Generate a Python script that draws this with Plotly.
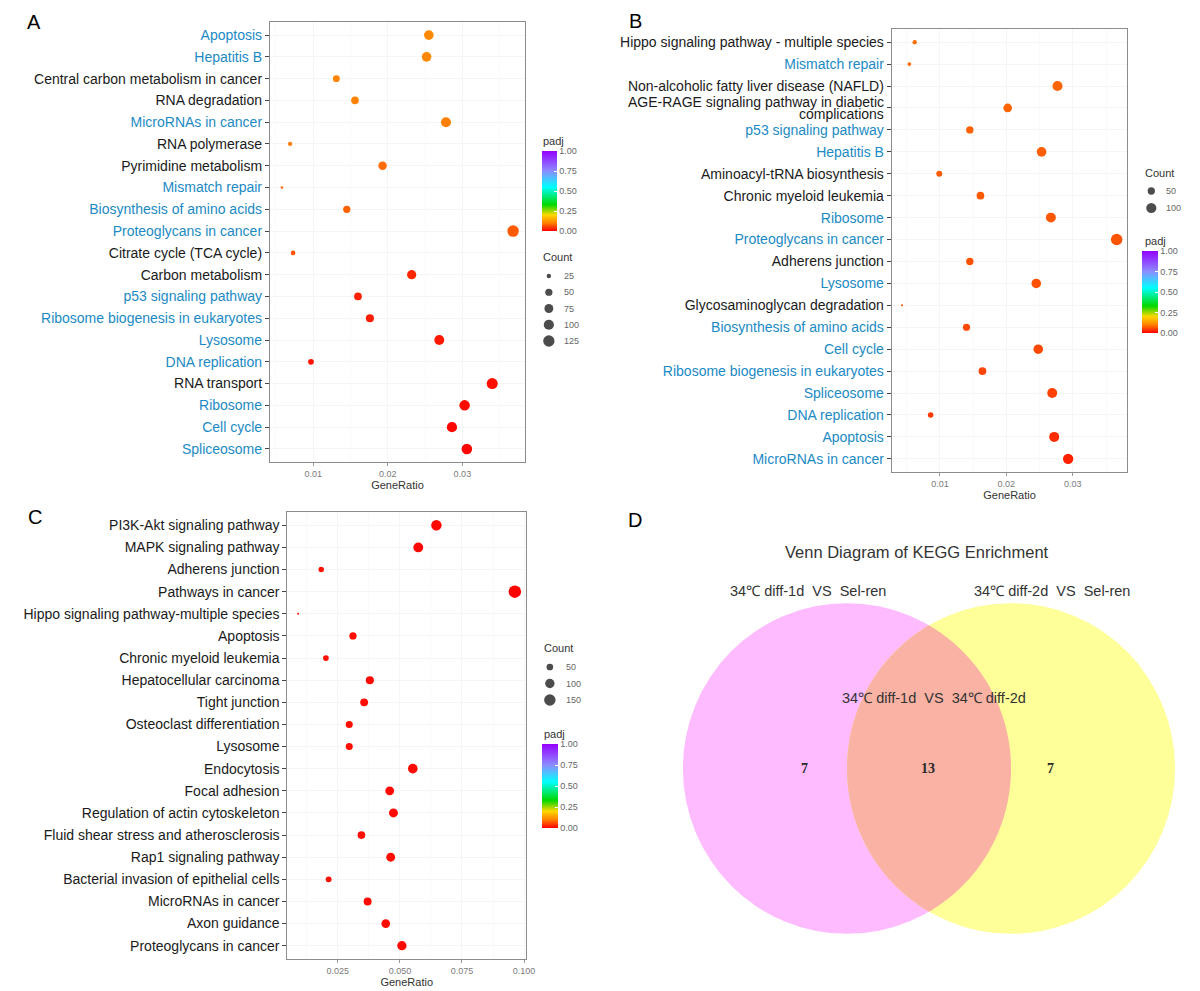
import numpy as np
import plotly.graph_objects as go

W, H = 1200, 991
FONT = "Liberation Sans, Arial, sans-serif"
BLUE = "#1b8ac4"
BLACK = "#1a1a1a"

# ---------------- Panel A ----------------
a_terms = ["Apoptosis", "Hepatitis B", "Central carbon metabolism in cancer", "RNA degradation",
           "MicroRNAs in cancer", "RNA polymerase", "Pyrimidine metabolism", "Mismatch repair",
           "Biosynthesis of amino acids", "Proteoglycans in cancer", "Citrate cycle (TCA cycle)",
           "Carbon metabolism", "p53 signaling pathway", "Ribosome biogenesis in eukaryotes",
           "Lysosome", "DNA replication", "RNA transport", "Ribosome", "Cell cycle", "Spliceosome"]
a_ratio = [0.0255, 0.0252, 0.0131, 0.0156, 0.0278, 0.0069, 0.0193, 0.0058, 0.0145, 0.0368,
           0.0073, 0.0232, 0.0160, 0.0176, 0.0269, 0.0097, 0.0340, 0.0303, 0.0286, 0.0306]
a_count = [89, 88, 46, 55, 97, 24, 68, 20, 51, 129, 26, 81, 56, 62, 94, 34, 119, 106, 100, 107]
a_padj = [0.110, 0.108, 0.105, 0.102, 0.100, 0.095, 0.085, 0.080, 0.075, 0.070,
          0.065, 0.030, 0.025, 0.022, 0.018, 0.015, 0.012, 0.008, 0.005, 0.003]
a_shared = [1, 1, 0, 0, 1, 0, 0, 1, 1, 1, 0, 0, 1, 1, 1, 1, 0, 1, 1, 1]
a_breaks = [25, 50, 75, 100, 125]

# ---------------- Panel B ----------------
b_terms = ["Hippo signaling pathway - multiple species", "Mismatch repair",
           "Non-alcoholic fatty liver disease (NAFLD)",
           "AGE-RAGE signaling pathway in diabetic complications", "p53 signaling pathway",
           "Hepatitis B", "Aminoacyl-tRNA biosynthesis", "Chronic myeloid leukemia", "Ribosome",
           "Proteoglycans in cancer", "Adherens junction", "Lysosome", "Glycosaminoglycan degradation",
           "Biosynthesis of amino acids", "Cell cycle", "Ribosome biogenesis in eukaryotes",
           "Spliceosome", "DNA replication", "Apoptosis", "MicroRNAs in cancer"]
b_ratio = [0.0062, 0.0054, 0.0277, 0.0202, 0.0145, 0.0253, 0.0099, 0.0161, 0.0267, 0.0366,
           0.0145, 0.0245, 0.0043, 0.0140, 0.0248, 0.0164, 0.0269, 0.0086, 0.0272, 0.0293]
b_count = [22, 19, 97, 71, 51, 89, 35, 56, 93, 128, 51, 86, 15, 49, 87, 57, 94, 30, 95, 103]
b_padj = [0.085, 0.083, 0.080, 0.078, 0.076, 0.074, 0.072, 0.070, 0.068, 0.066,
          0.064, 0.062, 0.060, 0.058, 0.056, 0.054, 0.050, 0.045, 0.035, 0.025]
b_shared = [0, 1, 0, 0, 1, 1, 0, 0, 1, 1, 0, 1, 0, 1, 1, 1, 1, 1, 1, 1]
b_breaks = [50, 100]
# long label drawn on two tight lines, as in the reference
b_wrapped = {"AGE-RAGE signaling pathway in diabetic complications":
             ["AGE-RAGE signaling pathway in diabetic", "complications"]}

# ---------------- Panel C ----------------
c_terms = ["PI3K-Akt signaling pathway", "MAPK signaling pathway", "Adherens junction",
           "Pathways in cancer", "Hippo signaling pathway-multiple species", "Apoptosis",
           "Chronic myeloid leukemia", "Hepatocellular carcinoma", "Tight junction",
           "Osteoclast differentiation", "Lysosome", "Endocytosis", "Focal adhesion",
           "Regulation of actin cytoskeleton", "Fluid shear stress and atherosclerosis",
           "Rap1 signaling pathway", "Bacterial invasion of epithelial cells", "MicroRNAs in cancer",
           "Axon guidance", "Proteoglycans in cancer"]
c_ratio = [0.0647, 0.0574, 0.0183, 0.0963, 0.0090, 0.0311, 0.0202, 0.0379, 0.0356, 0.0296,
           0.0296, 0.0552, 0.0459, 0.0474, 0.0345, 0.0463, 0.0213, 0.0370, 0.0443, 0.0508]
c_count = [123, 109, 35, 183, 17, 59, 38, 72, 68, 56, 56, 105, 87, 90, 66, 88, 40, 70, 84, 97]
c_padj = [0.004, 0.005, 0.012, 0.002, 0.015, 0.010, 0.012, 0.008, 0.009, 0.010,
          0.010, 0.006, 0.007, 0.007, 0.009, 0.007, 0.011, 0.008, 0.007, 0.006]
c_breaks = [50, 100, 150]

# ---------------- Panel D (Venn) ----------------
venn_title = "Venn Diagram of KEGG Enrichment"
venn_sets = ["34℃ diff-1d\u00a0\u00a0VS\u00a0\u00a0Sel-ren", "34℃ diff-2d\u00a0\u00a0VS\u00a0\u00a0Sel-ren"]
venn_inter_label = "34℃ diff-1d\u00a0\u00a0VS\u00a0\u00a034℃ diff-2d"
venn_counts = [7, 13, 7]   # only-1, shared, only-2

padj_scale = [[0.0, "#FF0000"], [0.10, "#FF8000"], [0.20, "#FFD800"], [0.33, "#00D800"],
              [0.55, "#00FFFF"], [0.75, "#8C8CFF"], [1.0, "#9400FF"]]


def px_x(p):
    return p / W


def px_y(p):
    return 1 - p / H


def diam(c, lo, hi, dmin, dmax):
    c = np.asarray(c, dtype=float)
    return dmin + (dmax - dmin) * np.sqrt(np.clip((c - lo) / (hi - lo), 0, 1))


fig = go.Figure()

panels = [
    dict(terms=a_terms, ratio=a_ratio, count=a_count, padj=a_padj, shared=a_shared, breaks=a_breaks,
         ax="", box=(272, 529, 22, 462), xr=[0.0042, 0.0384], tv=[0.01, 0.02, 0.03],
         tt=["0.01", "0.02", "0.03"], dmin=2.5, dmax=11.5,
         cb=(546, 151, 15, 80), padj_t=(545, 141), count_t=(545, 257), rows=(276, 16.25), dotx=553, labx=566),
    dict(terms=b_terms, ratio=b_ratio, count=b_count, padj=b_padj, shared=b_shared, breaks=b_breaks,
         ax="2", box=(898.5, 1135.8, 29, 472), xr=[0.00275, 0.0382], tv=[0.01, 0.02, 0.03],
         tt=["0.01", "0.02", "0.03"], dmin=2.0, dmax=11.5,
         cb=(1151, 251, 16, 82), padj_t=(1152, 241), count_t=(1152, 173), rows=(191, 17), dotx=1160, labx=1173),
    dict(terms=c_terms, ratio=c_ratio, count=c_count, padj=c_padj, shared=[0] * len(c_terms), breaks=c_breaks,
         ax="3", box=(289.6, 530, 512, 959), xr=[0.0047, 0.1008], tv=[0.025, 0.05, 0.075, 0.1],
         tt=["0.025", "0.050", "0.075", "0.100"], dmin=2.0, dmax=12.5,
         cb=(546, 744, 16, 84), padj_t=(546, 734), count_t=(546, 648), rows=(667, 16.5), dotx=554, labx=568),
]

annotations = []
layout_axes = {}

for p in panels:
    n = len(p["terms"])
    lo, hi = min(p["count"]), max(p["count"])
    sizes = diam(p["count"], lo, hi, p["dmin"], p["dmax"])
    cbx, cby, cbth, cblen = p["cb"]
    fig.add_trace(go.Scatter(
        x=p["ratio"], y=p["terms"], mode="markers",
        xaxis="x" + p["ax"], yaxis="y" + p["ax"],
        marker=dict(size=sizes, sizemode="diameter", color=p["padj"], colorscale=padj_scale,
                    cmin=0, cmax=1, line=dict(width=0), opacity=1,
                    colorbar=dict(x=px_x(cbx), xanchor="left", y=px_y(cby), yanchor="top",
                                  len=cblen, lenmode="pixels", thickness=cbth, thicknessmode="pixels",
                                  xpad=0, ypad=0, outlinewidth=0,
                                  tickvals=[0, 0.25, 0.5, 0.75, 1.0],
                                  ticktext=["0.00", "0.25", "0.50", "0.75", "1.00"],
                                  ticks="inside", ticklen=3, tickcolor="white",
                                  tickfont=dict(size=9, color="#666666", family=FONT))),
        showlegend=False, hoverinfo="x+y"))

    x0, x1, y0, y1 = p["box"]
    ticktext = []
    for t, s in zip(p["terms"], p["shared"]):
        col = BLUE if s else BLACK
        if t in b_wrapped:
            ticktext.append(" ")
            for k, line in enumerate(b_wrapped[t]):
                annotations.append(dict(
                    x=0, y=t, xref="x" + p["ax"] + " domain", yref="y" + p["ax"], text=line,
                    showarrow=False, xanchor="right", yanchor="middle", xshift=-6,
                    yshift=6 if k == 0 else -6,
                    font=dict(size=14, color=col, family=FONT)))
        else:
            ticktext.append(f'<span style="color:{col}">{t}</span>')
    layout_axes["xaxis" + p["ax"]] = dict(
        domain=[px_x(x0), px_x(x1)], range=p["xr"], anchor="y" + p["ax"],
        tickvals=p["tv"], ticktext=p["tt"], tickfont=dict(size=9, color="#7a7a7a", family=FONT),
        ticks="outside", ticklen=3, tickcolor="#9a9a9a",
        showline=True, mirror=True, linecolor="#8c8c8c", linewidth=1.2,
        showgrid=True, gridcolor="#f5f5f5", gridwidth=1, zeroline=False,
        minor=dict(showgrid=True, gridcolor="#fafafa", dtick=(p["tv"][1] - p["tv"][0]) / 2),
        title=dict(text="GeneRatio", font=dict(size=11, color="#333333", family=FONT), standoff=2))
    layout_axes["yaxis" + p["ax"]] = dict(
        domain=[px_y(y1), px_y(y0)], anchor="x" + p["ax"], type="category",
        categoryorder="array", categoryarray=p["terms"][::-1], range=[-0.6, n - 0.4],
        tickvals=p["terms"], ticktext=ticktext, tickfont=dict(size=14, color=BLACK, family=FONT),
        ticks="outside", ticklen=4, tickcolor="#444444",
        showline=True, mirror=True, linecolor="#8c8c8c", linewidth=1.2,
        showgrid=True, gridcolor="#f5f5f5", zeroline=False)

    # Count size legend (drawn in a pixel-unit overlay axis)
    rows0, rstep = p["rows"]
    ly = [rows0 + i * rstep for i in range(len(p["breaks"]))]
    fig.add_trace(go.Scatter(
        x=[p["dotx"]] * len(p["breaks"]), y=ly, mode="markers", xaxis="x4", yaxis="y4",
        marker=dict(size=diam(p["breaks"], lo, hi, p["dmin"], p["dmax"]), sizemode="diameter",
                    color="black", line=dict(width=0)),
        showlegend=False, hoverinfo="skip"))
    for b, yy in zip(p["breaks"], ly):
        annotations.append(dict(x=p["labx"], y=yy, xref="x4", yref="y4", text=str(b), showarrow=False,
                                xanchor="left", yanchor="middle",
                                font=dict(size=9, color="#666666", family=FONT)))
    annotations.append(dict(x=p["count_t"][0], y=p["count_t"][1], xref="x4", yref="y4", text="Count",
                            showarrow=False, xanchor="left", yanchor="middle",
                            font=dict(size=11, color="#333333", family=FONT)))
    annotations.append(dict(x=p["padj_t"][0], y=p["padj_t"][1], xref="x4", yref="y4", text="padj",
                            showarrow=False, xanchor="left", yanchor="middle",
                            font=dict(size=11, color="#333333", family=FONT)))

layout_axes["xaxis4"] = dict(domain=[0, 1], range=[0, W], anchor="y4", visible=False, fixedrange=True)
layout_axes["yaxis4"] = dict(domain=[0, 1], range=[H, 0], anchor="x4", visible=False, fixedrange=True)

# ---------------- Venn geometry (unit circles) ----------------
r, h = 1.0, 0.5
vx_c, vy_c, scale = 936, 768.5, 165.3
xr5 = [-1.55, 1.55]
yr5 = [-1.1, 1.45]
layout_axes["xaxis5"] = dict(domain=[px_x(vx_c + xr5[0] * scale), px_x(vx_c + xr5[1] * scale)],
                             range=xr5, anchor="y5", visible=False, fixedrange=True)
layout_axes["yaxis5"] = dict(domain=[px_y(vy_c - yr5[0] * scale), px_y(vy_c - yr5[1] * scale)],
                             range=yr5, anchor="x5", visible=False, fixedrange=True)

shapes = [
    dict(type="circle", xref="x5", yref="y5", x0=-h - r, x1=-h + r, y0=-r, y1=r,
         fillcolor="#FFBBFF", line=dict(width=0), layer="below"),
    dict(type="circle", xref="x5", yref="y5", x0=h - r, x1=h + r, y0=-r, y1=r,
         fillcolor="#FFFF99", line=dict(width=0), layer="below"),
]
alpha = np.arccos(h / r)
t1 = np.linspace(-alpha, alpha, 80)
t2 = np.linspace(np.pi - alpha, np.pi + alpha, 80)
lx = np.concatenate([-h + r * np.cos(t1), h + r * np.cos(t2)])
ly_ = np.concatenate([r * np.sin(t1), r * np.sin(t2)])
path = "M " + " L ".join(f"{a:.4f},{b:.4f}" for a, b in zip(lx, ly_)) + " Z"
shapes.append(dict(type="path", xref="x5", yref="y5", path=path, fillcolor="#F9B2A3",
                   line=dict(width=0), layer="below"))

annotations += [
    dict(x=-0.07, y=1.31, xref="x5", yref="y5", text=venn_title, showarrow=False,
         font=dict(size=16.5, color="#333333", family=FONT)),
    dict(x=-0.74, y=1.074, xref="x5", yref="y5", text=venn_sets[0], showarrow=False,
         font=dict(size=14.5, color="#333333", family=FONT)),
    dict(x=0.748, y=1.074, xref="x5", yref="y5", text=venn_sets[1], showarrow=False,
         font=dict(size=14.5, color="#333333", family=FONT)),
    dict(x=0.03, y=0.4265, xref="x5", yref="y5", text=venn_inter_label, showarrow=False,
         font=dict(size=14.5, color="#333333", family=FONT)),
]
for cx, v in zip([-0.757, -0.008, 0.74], venn_counts):
    annotations.append(dict(x=cx, y=0.0, xref="x5", yref="y5", text=f"<b>{v}</b>", showarrow=False,
                            font=dict(size=14, color="#2a2a2a", family="Liberation Serif, DejaVu Serif, serif")))

# Panel letters
for letter, (lx0, ly0) in zip("ABCD", [(34, 22), (640, 21), (35, 517), (640, 520)]):
    annotations.append(dict(x=px_x(lx0), y=px_y(ly0), xref="paper", yref="paper", text=letter,
                            showarrow=False, xanchor="center", yanchor="middle",
                            font=dict(size=20, color="black", family=FONT)))

fig.update_layout(
    width=W, height=H, autosize=False, margin=dict(l=0, r=0, t=0, b=0),
    paper_bgcolor="white", plot_bgcolor="rgba(0,0,0,0)",
    font=dict(family=FONT), showlegend=False,
    shapes=shapes, annotations=annotations, **layout_axes)

fig.write_html("out.html", config={"displayModeBar": False},
               post_script="document.body.style.margin='0px';document.body.style.overflow='hidden';")
